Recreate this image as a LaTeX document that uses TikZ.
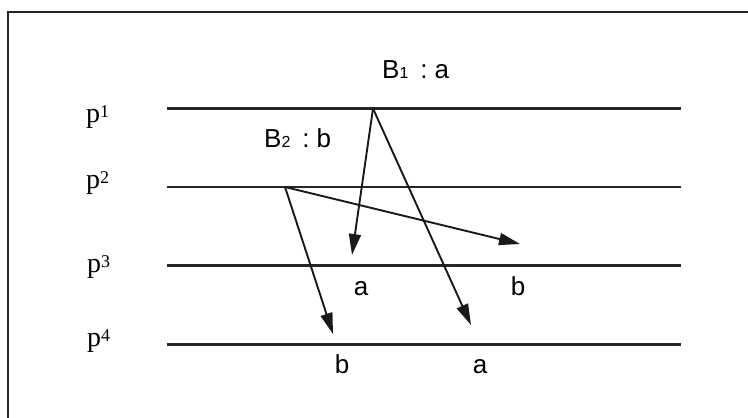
\documentclass[tikz,border=0pt]{standalone}
\usepackage{fontspec}
\setmainfont{Liberation Serif}
\setsansfont{Liberation Sans}
\usetikzlibrary{arrows.meta}
\newcommand{\pnum}[1]{\raisebox{5pt}{\fontsize{18}{18}\selectfont #1}}
\newcommand{\bnum}[1]{{\fontsize{16}{16}\selectfont #1}}
\begin{document}
\begin{tikzpicture}[x=1pt,y=-1pt,
  lane/.style={line width=2.1pt,black!85},
  msg/.style={line width=1.9pt,black!90,-{Triangle[length=21pt,width=12pt]}},
  plabel/.style={anchor=base west,inner sep=0pt,font=\fontsize{28}{28}\selectfont},
  slabel/.style={anchor=base,inner sep=0pt,font=\sffamily\fontsize{26}{26}\selectfont},
  blabel/.style={anchor=base west,inner sep=0pt,font=\sffamily\fontsize{26}{26}\selectfont},
  frameline/.style={line width=2.4pt,black!85}]
\useasboundingbox (0,0) rectangle (748,418);
% frame
\coordinate (fbl) at (8,420);
\coordinate (ftl) at (8,12);
\coordinate (ftr) at (750,12);
\draw[frameline] (fbl) -- (ftl) -- (ftr);
% process lines
\coordinate (l1a) at (167,108.5); \coordinate (l1b) at (681,108.5);
\coordinate (l2a) at (167,187);   \coordinate (l2b) at (681,187);
\coordinate (l3a) at (167,265.5); \coordinate (l3b) at (681,265.5);
\coordinate (l4a) at (167,344.5); \coordinate (l4b) at (681,344.5);
\draw[lane] (l1a) -- (l1b);
\draw[lane] (l2a) -- (l2b);
\draw[lane] (l3a) -- (l3b);
\draw[lane] (l4a) -- (l4b);
% labels
\node[plabel] (p1) at (86,122) {p\pnum{1}};
\node[plabel] (p2) at (86,188) {p\pnum{2}};
\node[plabel] (p3) at (87,272) {p\pnum{3}};
\node[plabel] (p4) at (87,346) {p\pnum{4}};
\node[blabel] (b1) at (382,78) {B\bnum{1}\hspace{12pt}:\hspace{7pt}a};
\node[blabel] (b2) at (264,147) {B\bnum{2}\hspace{12pt}:\hspace{7pt}b};
% messages
\coordinate (sa) at (373,108.5);
\coordinate (sb) at (285,187);
\coordinate (ta3) at (352,255);
\coordinate (ta4) at (471,325);
\coordinate (tb3) at (520,244);
\coordinate (tb4) at (333,334);
\draw[msg] (sa) -- (ta3);
\draw[msg] (sa) -- (ta4);
\draw[msg] (sb) -- (tb3);
\draw[msg] (sb) -- (tb4);
\node[slabel] (a3) at (361,295) {a};
\node[slabel] (b3) at (518,295) {b};
\node[slabel] (b4) at (342,373) {b};
\node[slabel] (a4) at (480,373) {a};
\end{tikzpicture}
\end{document}
